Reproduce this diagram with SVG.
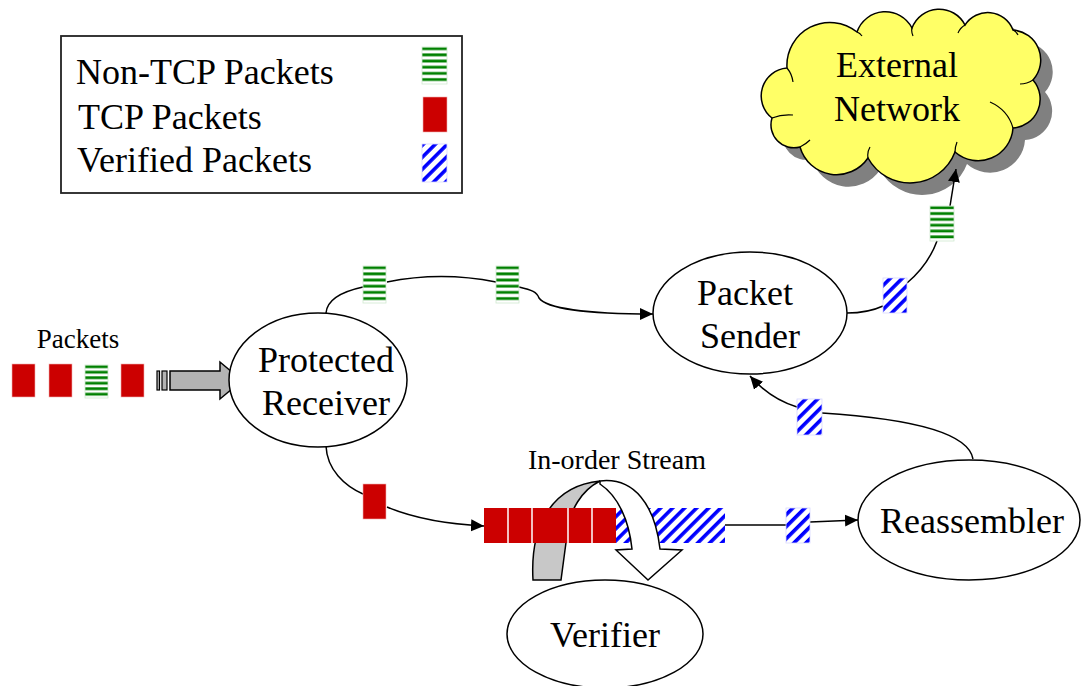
<svg xmlns="http://www.w3.org/2000/svg" width="1082" height="686" viewBox="0 0 1082 686">
  <style>
    .lbl { font-family: "Liberation Serif", "Times New Roman", serif; fill: #000; }
    .node { fill: #fff; stroke: #000; stroke-width: 1.5; }
    .wire { fill: none; stroke: #000; stroke-width: 1.5; }
    .tcp { fill: #cc0000; stroke: #f0b0b0; stroke-width: 0.6; }
    .plain { fill: url(#stripes); stroke: #cfe8cf; stroke-width: 0.8; }
    .ok { fill: url(#hatch); stroke: #d6d6ff; stroke-width: 0.8; }
  </style>
  <defs>
    <!-- horizontal green stripes for non-TCP packets -->
    <pattern id="stripes" patternUnits="objectBoundingBox" width="1" height="0.1667">
      <rect x="0" y="0.3" width="60" height="2.8" fill="#008000"/>
    </pattern>
    <!-- diagonal blue hatch for verified packets -->
    <pattern id="hatch" patternUnits="userSpaceOnUse" width="8.5" height="8.5" patternTransform="rotate(45)">
      <rect x="0" y="0" width="8.5" height="8.5" fill="#fff"/>
      <rect x="0" y="0" width="3.6" height="8.5" fill="#0000ff"/>
    </pattern>
    <marker id="arrow" markerUnits="userSpaceOnUse" markerWidth="14" markerHeight="14" refX="13" refY="7" orient="auto">
      <path d="M0,1 L13,7 L0,13 Z" fill="#000"/>
    </marker>
  </defs>

  <!-- legend -->
  <g id="legend">
    <rect x="61" y="36" width="401" height="157" fill="#fff" stroke="#222" stroke-width="1.8"/>
    <text class="lbl" x="76" y="84" font-size="36">Non-TCP Packets</text>
    <text class="lbl" x="78" y="129" font-size="36">TCP Packets</text>
    <text class="lbl" x="77" y="172" font-size="36">Verified Packets</text>
    <rect class="plain" x="422" y="47" width="25" height="37"/>
    <rect class="tcp" x="423" y="97" width="24" height="35"/>
    <rect class="ok" x="422" y="144" width="25" height="38"/>
  </g>

  <!-- external network cloud -->
  <g id="external-network">
    <path transform="translate(12,12)" fill="#808080" d="M787,68 A43,43 0 0 1 857,32 A30,30 0 0 1 912,28 A29,29 0 0 1 965,25 A27,27 0 0 1 1013,30 A30,30 0 0 1 1033,80 A29,29 0 0 1 1013,128 A35,35 0 0 1 955,152 A48,48 0 0 1 868,158 A38,38 0 0 1 800,147 A23,23 0 0 1 772,118 A28,28 0 0 1 787,68 Z"/>
    <path fill="#ffff66" stroke="#000" stroke-width="1.5" d="M787,68 A43,43 0 0 1 857,32 A30,30 0 0 1 912,28 A29,29 0 0 1 965,25 A27,27 0 0 1 1013,30 A30,30 0 0 1 1033,80 A29,29 0 0 1 1013,128 A35,35 0 0 1 955,152 A48,48 0 0 1 868,158 A38,38 0 0 1 800,147 A23,23 0 0 1 772,118 A28,28 0 0 1 787,68 Z"/>
    <path fill="none" stroke="#000" stroke-width="1.2" d="M787,68 Q792,74 793,82 M772,118 Q782,114 793,115 M800,147 Q806,144 810,140 M868,158 Q867,152 870,147 M955,152 Q955,147 957,142 M1013,128 Q1008,110 990,102 M1033,80 Q1027,84 1020,84 M1013,30 Q1016,31 1018,35 M965,25 Q960,28 958,33 M912,28 Q911,31 913,36 M857,32 Q860,33 862,36"/>
    <text class="lbl" x="897" y="77" font-size="36" text-anchor="middle">External</text>
    <text class="lbl" x="897" y="121" font-size="36" text-anchor="middle">Network</text>
  </g>

  <!-- incoming packets -->
  <g id="incoming">
    <text class="lbl" x="78" y="348" font-size="27" text-anchor="middle">Packets</text>
    <rect class="tcp" x="12" y="364" width="23" height="33"/>
    <rect class="tcp" x="49" y="364" width="23" height="33"/>
    <rect class="plain" x="85" y="365" width="23" height="33"/>
    <rect class="tcp" x="121" y="364" width="23" height="33"/>
    <rect x="157" y="371" width="2.5" height="19" fill="#b3b3b3" stroke="#000" stroke-width="1.2"/>
    <rect x="162" y="371" width="5" height="19" fill="#b3b3b3" stroke="#000" stroke-width="1.2"/>
    <path d="M170,371 L220,371 L220,362 L242,380.5 L220,399 L220,390 L170,390 Z" fill="#b3b3b3" stroke="#000" stroke-width="1.5"/>
  </g>

  <!-- connectors -->
  <g id="connectors">
    <path class="wire" d="M326,313 C327,300 340,292 363,287"/>
    <path class="wire" d="M387,282 Q441,271 496,282"/>
    <path class="wire" d="M519,287 C532,290 537,292 539,298 C546,308 585,314 653,314" marker-end="url(#arrow)"/>
    <path class="wire" d="M326,446 C327,470 345,486 363,494"/>
    <path class="wire" d="M387,507 Q425,523 484,526" marker-end="url(#arrow)"/>
    <path class="wire" d="M725,525 L786,525"/>
    <path class="wire" d="M810,522 L858,520" marker-end="url(#arrow)"/>
    <path class="wire" d="M973,459 C968,430 900,418 822,413"/>
    <path class="wire" d="M797,407 C780,402 765,393 750,376" marker-end="url(#arrow)"/>
    <path class="wire" d="M847,313 Q868,313 883,306"/>
    <path class="wire" d="M907,283 C920,272 930,260 937,241"/>
    <path class="wire" d="M950,206 L956,169" marker-end="url(#arrow)"/>
    <rect class="plain" x="363" y="266" width="23" height="37"/>
    <rect class="plain" x="496" y="266" width="23" height="37"/>
    <rect class="tcp" x="363" y="484" width="23" height="35"/>
    <rect class="ok" x="786" y="508" width="24" height="35"/>
    <rect class="ok" x="797" y="399" width="25" height="36"/>
    <rect class="ok" x="883" y="278" width="24" height="35"/>
    <rect class="plain" x="930" y="206" width="24" height="35"/>
  </g>

  <!-- in-order stream with the verifier turn-around -->
  <g id="stream">
    <text class="lbl" x="617" y="469" font-size="28" text-anchor="middle">In-order Stream</text>
    <path d="M533,580 C530,528 550,486 600,481 C582,490 569,510 567,535 L561,580 Z" fill="#c8c8c8" stroke="#000" stroke-width="1.5"/>
    <rect x="484" y="508" width="132" height="35" fill="#cc0000"/>
    <path d="M508,508 V543 M532,508 V543 M568,508 V543 M592,508 V543" stroke="#fff" stroke-width="1.5"/>
    <rect x="616" y="508" width="109" height="35" fill="url(#hatch)"/>
    <path d="M600,481 C634,477 655,505 660,549 L682,550 L648,580 L616,550 L632,549 C629,520 618,496 600,484 Z" fill="#fff" stroke="#000" stroke-width="1.5"/>
  </g>

  <g id="protected-receiver">
    <ellipse class="node" cx="318" cy="380" rx="89" ry="67"/>
    <text class="lbl" x="326" y="372" font-size="36" text-anchor="middle">Protected</text>
    <text class="lbl" x="326" y="415" font-size="36" text-anchor="middle">Receiver</text>
  </g>

  <g id="packet-sender">
    <ellipse class="node" cx="750" cy="313" rx="97" ry="61"/>
    <text class="lbl" x="745" y="305" font-size="36" text-anchor="middle">Packet</text>
    <text class="lbl" x="750" y="348" font-size="36" text-anchor="middle">Sender</text>
  </g>

  <g id="reassembler">
    <ellipse class="node" cx="969" cy="520" rx="111" ry="60"/>
    <text class="lbl" x="972" y="533" font-size="36" text-anchor="middle">Reassembler</text>
  </g>

  <g id="verifier">
    <ellipse class="node" cx="605" cy="634" rx="98" ry="54"/>
    <text class="lbl" x="605" y="647" font-size="36" text-anchor="middle">Verifier</text>
  </g>
</svg>
